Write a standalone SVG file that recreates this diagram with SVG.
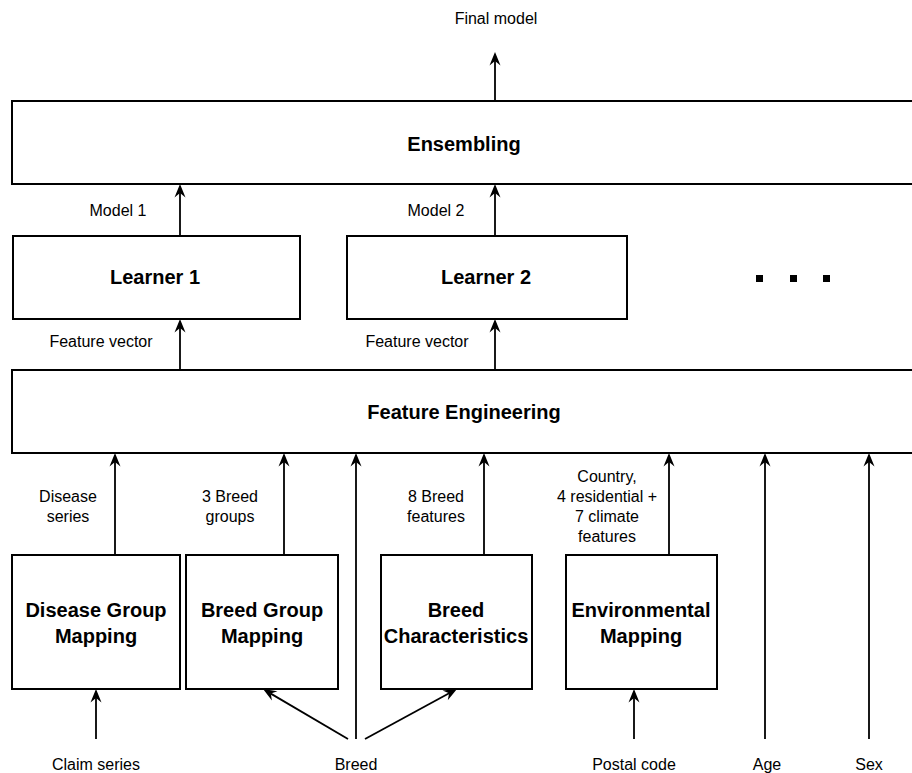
<svg xmlns="http://www.w3.org/2000/svg" width="912" height="773" viewBox="0 0 912 773">
<style>
.box{fill:#fff;stroke:#000;stroke-width:2}
.t{font-family:"Liberation Sans",Arial,sans-serif;font-size:16px;fill:#000;text-anchor:middle}
.b{font-family:"Liberation Sans",Arial,sans-serif;font-size:20px;font-weight:bold;fill:#000;text-anchor:middle}
.c{fill:none;stroke:#000;stroke-width:1.8}
</style>
<defs>
<marker id="ah" markerUnits="userSpaceOnUse" viewBox="-5 -7 16 14" markerWidth="16" markerHeight="14" refX="0" refY="0" orient="auto">
<path d="M9,0 L-4.5,-5.5 L0,0 L-4.5,5.5 Z" fill="#000"/>
</marker>
</defs>
<rect width="912" height="773" fill="#fff"/>
<g id="ensembling"><rect class="box" x="12" y="101" width="920" height="83"/><text class="b" x="464" y="151">Ensembling</text></g>
<g id="learner1"><rect class="box" x="13" y="236" width="287" height="83"/><text class="b" x="155" y="284">Learner 1</text></g>
<g id="learner2"><rect class="box" x="347" y="236" width="280" height="83"/><text class="b" x="486" y="284">Learner 2</text></g>
<g id="dots"><rect x="756" y="275" width="7" height="7"/><rect x="790" y="275" width="7" height="7"/><rect x="823" y="275" width="7" height="7"/></g>
<g id="feature-engineering"><rect class="box" x="12" y="370" width="920" height="83"/><text class="b" x="464" y="419">Feature Engineering</text></g>
<g id="disease-group-mapping"><rect class="box" x="12" y="555" width="168" height="134"/><text class="b" x="96" y="617">Disease Group</text><text class="b" x="96" y="643">Mapping</text></g>
<g id="breed-group-mapping"><rect class="box" x="186" y="555" width="152" height="134"/><text class="b" x="262" y="617">Breed Group</text><text class="b" x="262" y="643">Mapping</text></g>
<g id="breed-characteristics"><rect class="box" x="381" y="555" width="151" height="134"/><text class="b" x="456" y="617">Breed</text><text class="b" x="456" y="643">Characteristics</text></g>
<g id="environmental-mapping"><rect class="box" x="566" y="555" width="151" height="134"/><text class="b" x="641" y="617">Environmental</text><text class="b" x="641" y="643">Mapping</text></g>
<g id="connectors">
<line class="c" x1="495" y1="101" x2="495" y2="61" marker-end="url(#ah)"/>
<line class="c" x1="180" y1="236" x2="180" y2="193" marker-end="url(#ah)"/>
<line class="c" x1="495" y1="236" x2="495" y2="193" marker-end="url(#ah)"/>
<line class="c" x1="180" y1="370" x2="180" y2="328" marker-end="url(#ah)"/>
<line class="c" x1="495" y1="370" x2="495" y2="328" marker-end="url(#ah)"/>
<line class="c" x1="115" y1="555" x2="115" y2="462" marker-end="url(#ah)"/>
<line class="c" x1="284" y1="555" x2="284" y2="462" marker-end="url(#ah)"/>
<line class="c" x1="356" y1="739" x2="356" y2="462" marker-end="url(#ah)"/>
<line class="c" x1="484" y1="555" x2="484" y2="462" marker-end="url(#ah)"/>
<line class="c" x1="669" y1="555" x2="669" y2="462" marker-end="url(#ah)"/>
<line class="c" x1="765" y1="739" x2="765" y2="462" marker-end="url(#ah)"/>
<line class="c" x1="869" y1="739" x2="869" y2="462" marker-end="url(#ah)"/>
<line class="c" x1="96" y1="739" x2="96" y2="698" marker-end="url(#ah)"/>
<line class="c" x1="634" y1="739" x2="634" y2="698" marker-end="url(#ah)"/>
<line class="c" x1="348" y1="739" x2="270.8" y2="693.6" marker-end="url(#ah)"/>
<line class="c" x1="365" y1="739" x2="449.1" y2="693.3" marker-end="url(#ah)"/>
</g>
<g id="labels">
<text class="t" x="496" y="24">Final model</text>
<text class="t" x="118" y="216">Model 1</text>
<text class="t" x="436" y="216">Model 2</text>
<text class="t" x="101" y="347">Feature vector</text>
<text class="t" x="417" y="347">Feature vector</text>
<text class="t" x="68" y="502">Disease</text><text class="t" x="68" y="522">series</text>
<text class="t" x="230" y="502">3 Breed</text><text class="t" x="230" y="522">groups</text>
<text class="t" x="436" y="502">8 Breed</text><text class="t" x="436" y="522">features</text>
<text class="t" x="607" y="482">Country,</text><text class="t" x="607" y="502">4 residential +</text><text class="t" x="607" y="522">7 climate</text><text class="t" x="607" y="542">features</text>
<text class="t" x="96" y="770">Claim series</text>
<text class="t" x="356" y="770">Breed</text>
<text class="t" x="634" y="770">Postal code</text>
<text class="t" x="767" y="770">Age</text>
<text class="t" x="869" y="770">Sex</text>
</g>
</svg>
